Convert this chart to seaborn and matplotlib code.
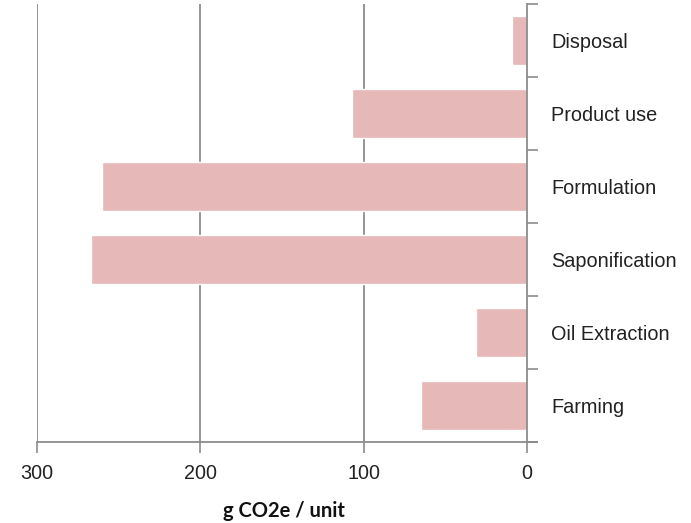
import matplotlib
matplotlib.use("Agg")
import matplotlib.pyplot as plt
import seaborn as sns
import pandas as pd
import numpy as np

# Life-cycle stages (top to bottom) and their footprint
stages = ["Disposal", "Product use", "Formulation", "Saponification", "Oil Extraction", "Farming"]
emissions = [9, 107, 260, 267, 31, 65]
x_ticks = [300, 200, 100, 0]
x_label = "g CO2e / unit"

df = pd.DataFrame({"stage": stages, "gco2e": emissions})

sns.set_style("white")
plt.rcParams["font.family"] = ["Liberation Sans", "DejaVu Sans"]

W, H = 691, 523
fig = plt.figure(figsize=(W / 100, H / 100), dpi=100)
left_px, right_px, top_px, bottom_px = 37, 537, 4, 442
ax = fig.add_axes([left_px / W, 1 - bottom_px / H, (right_px - left_px) / W, (bottom_px - top_px) / H])

sns.barplot(data=df, x="gco2e", y="stage", order=stages, orient="h",
            color="#e6b8b7", saturation=1, width=0.68, ax=ax)

grid_col = "#8c8c8c"
ax.set_xlim(300, -6.1)
ax.set_ylim(len(stages) - 0.5, -0.5)

# vertical gridlines
for v in x_ticks[:-1]:
    ax.axvline(v, color=grid_col, lw=1.3, zorder=0)

ax.set_xticks(x_ticks)
ax.set_xticklabels([str(t) for t in x_ticks], fontsize=14.2, color="#222222")
ax.tick_params(axis="x", direction="out", length=8, width=1.2, color=grid_col, pad=8, bottom=True)

# category axis on the right, anchored at zero
ax.yaxis.tick_right()
ax.spines["right"].set_position(("data", 0))
for s in ["top", "left"]:
    ax.spines[s].set_visible(False)
for s in ["right", "bottom"]:
    ax.spines[s].set_color(grid_col)
    ax.spines[s].set_linewidth(1.3)

ax.set_yticks(np.arange(len(stages)))
ax.set_yticklabels(stages, fontsize=14.3, color="#222222")
ax.tick_params(axis="y", which="major", length=0, pad=17.5)
ax.set_yticks(np.arange(-0.5, len(stages)), minor=True)
ax.tick_params(axis="y", which="minor", right=True, direction="out", length=8, width=1.2, color=grid_col)
ax.set_ylabel("")

ax.set_xlabel(x_label, fontsize=14.5, fontweight="bold", family=["Lato", "DejaVu Sans"], color="#111111")
ax.xaxis.set_label_coords((284 - left_px) / (right_px - left_px), -(511 - bottom_px) / (bottom_px - top_px))
ax.xaxis.label.set_va("center")

fig.savefig("out.png", dpi=100)
